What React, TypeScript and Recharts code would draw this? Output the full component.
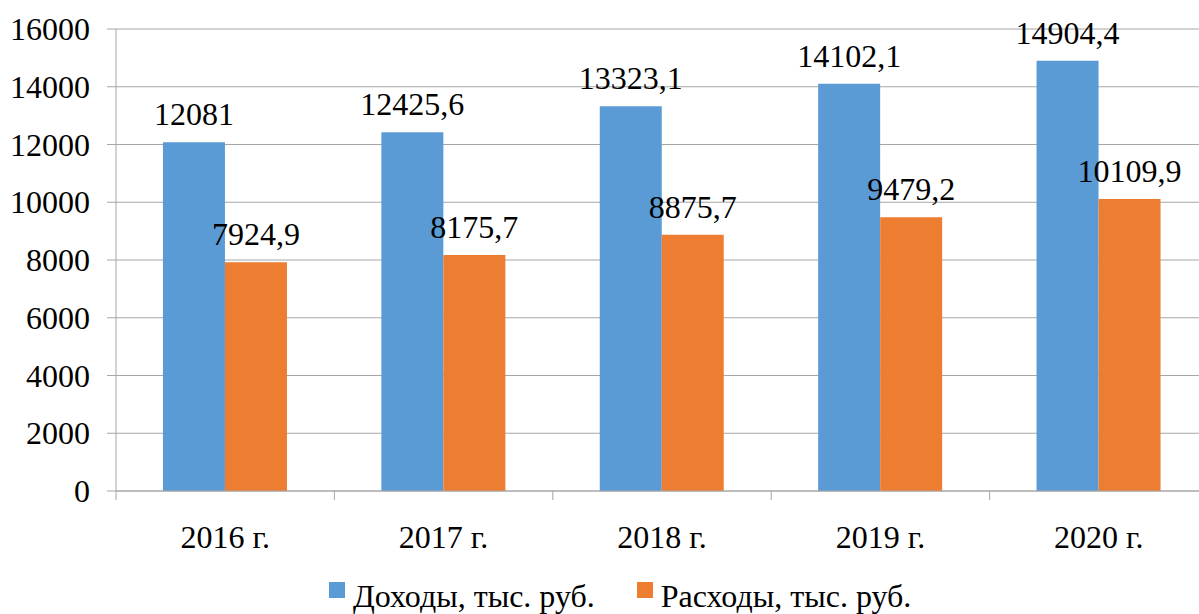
import { BarChart, Bar, XAxis, YAxis, CartesianGrid, Legend, LabelList } from "recharts";

const years = ["2016 г.", "2017 г.", "2018 г.", "2019 г.", "2020 г."];
const income = [12081, 12425.6, 13323.1, 14102.1, 14904.4];
const expenses = [7924.9, 8175.7, 8875.7, 9479.2, 10109.9];
const yTicks = [0, 2000, 4000, 6000, 8000, 10000, 12000, 14000, 16000];

const data = years.map((year, i) => ({ year, income: income[i], expenses: expenses[i] }));

const FONT = "'Liberation Serif', 'Times New Roman', serif";
const GRID = "#a6a6a6";

const fmt = (v: any) => String(v).replace(".", ",");

// category tick: label in the middle, tick marks on the band boundaries
function YearTick(props: any) {
  const { x, y, payload, index, visibleTicksCount } = props;
  const half = payload.offset || 0;
  const last = index === visibleTicksCount - 1;
  return (
    <g>
      <line x1={x - half} y1={y} x2={x - half} y2={y + 9} stroke={GRID} />
      {last && <line x1={x + half} y1={y} x2={x + half} y2={y + 9} stroke={GRID} />}
      <text x={x} y={y + 57} textAnchor="middle" fontSize={32} fontFamily={FONT} fill="#000">
        {payload.value}
      </text>
    </g>
  );
}

function ValueTick(props: any) {
  const { x, y, payload } = props;
  return (
    <text x={x} y={y + 11} textAnchor="end" fontSize={32} fontFamily={FONT} fill="#000">
      {payload.value}
    </text>
  );
}

function LegendContent(props: any) {
  const items = props.payload || [];
  return (
    <div style={{ display: "flex", height: 40, fontFamily: FONT }}>
      {items.map((it: any) => (
        <div key={it.value} style={{ display: "flex", alignItems: "flex-start", marginRight: 42 }}>
          <div style={{ width: 16, height: 16, background: it.color, marginTop: 6, marginRight: 8 }} />
          <span style={{ fontSize: 32, lineHeight: "40px", color: "#000" }}>{it.value}</span>
        </div>
      ))}
    </div>
  );
}

export default function App() {
  return (
    <div style={{ position: "fixed", left: 0, top: 0, width: 1199, height: 614, overflow: "hidden", background: "#fff", fontFamily: FONT }}>
      <BarChart
        width={1220}
        height={614}
        data={data}
        margin={{ top: 29, right: 12, bottom: 0, left: 0 }}
        barCategoryGap="21.5%"
        barGap={0}
        style={{ fontFamily: FONT }}
      >
        <CartesianGrid vertical={false} stroke={GRID} />
        <XAxis
          dataKey="year"
          height={83}
          axisLine={{ stroke: GRID }}
          tickLine={false}
          tickSize={0}
          tickMargin={0}
          tick={<YearTick />}
          interval={0}
        />
        <YAxis
          width={116}
          domain={[0, 16000]}
          ticks={yTicks}
          interval={0}
          axisLine={{ stroke: GRID }}
          tickLine={{ stroke: GRID }}
          tickSize={9}
          tickMargin={17}
          tick={<ValueTick />}
        />
        <Legend
          height={40}
          content={<LegendContent />}
          wrapperStyle={{ left: 329, top: 576, width: "auto", bottom: "auto" }}
        />
        <Bar dataKey="income" name="Доходы, тыс. руб." fill="#5B9BD5" isAnimationActive={false}>
          <LabelList dataKey="income" position="top" offset={17} formatter={fmt} fontSize={32} fontFamily={FONT} fill="#000" />
        </Bar>
        <Bar dataKey="expenses" name="Расходы, тыс. руб." fill="#ED7D31" isAnimationActive={false}>
          <LabelList dataKey="expenses" position="top" offset={17} formatter={fmt} fontSize={32} fontFamily={FONT} fill="#000" />
        </Bar>
      </BarChart>
    </div>
  );
}
